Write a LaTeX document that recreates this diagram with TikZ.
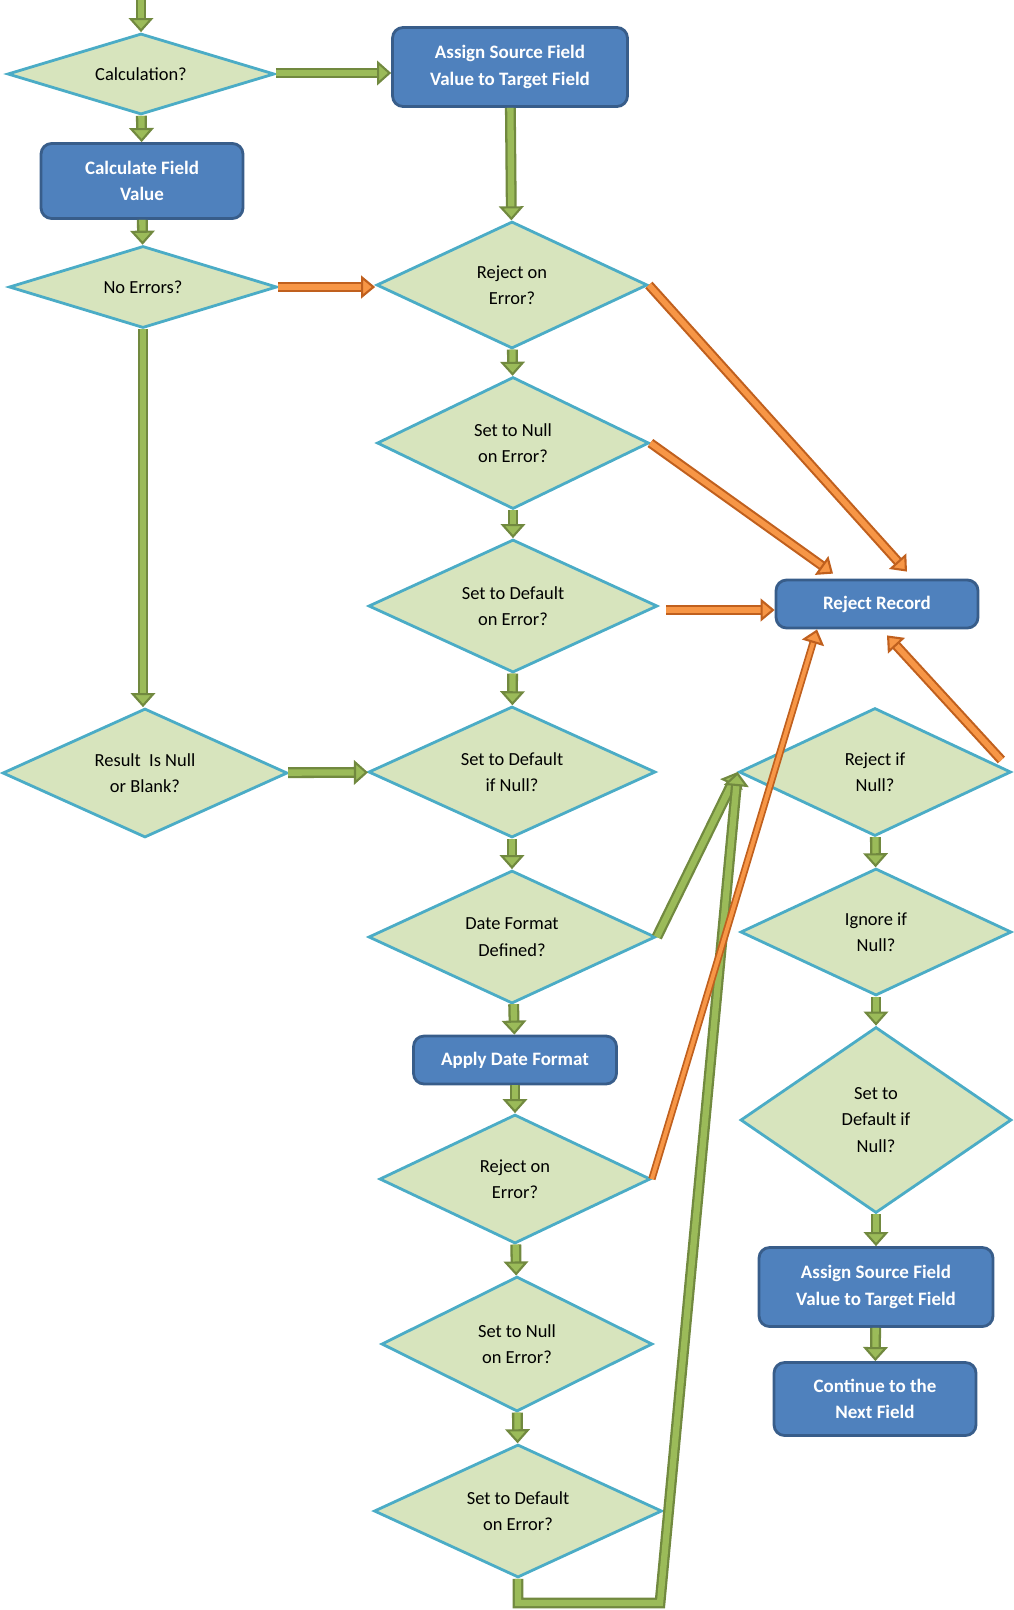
\documentclass[tikz,border=0pt]{standalone}
\usepackage{fontspec}
\setmainfont{Carlito}
\usetikzlibrary{arrows.meta,shapes.geometric}

\definecolor{dfill}{HTML}{D7E4BD}
\definecolor{dborder}{HTML}{4BACC6}
\definecolor{bfill}{HTML}{4F81BD}
\definecolor{bborder}{HTML}{385D8A}
\definecolor{gdark}{HTML}{71893F}
\definecolor{glight}{HTML}{9BBB59}
\definecolor{odark}{HTML}{C0601E}
\definecolor{olight}{HTML}{F79646}

\begin{document}
\begin{tikzpicture}[x=0.02cm, y=-0.02cm,
    font=\fontsize{10.5pt}{15pt}\selectfont,
    decision/.style={diamond, aspect=2.2, draw=dborder, fill=dfill, line width=1.6pt, inner sep=0pt, align=center},
    block/.style={rectangle, draw=bborder, fill=bfill, line width=1.6pt, rounded corners=6pt, text=white, font=\fontsize{10.8pt}{15pt}\selectfont\bfseries, align=center},
    gline/.style={draw=gdark, double=glight, line width=1.3pt, double distance=3.6pt, -{Triangle[width=14pt, length=8pt, fill=glight, line width=1.2pt]}},
    oline/.style={draw=odark, double=olight, line width=1.2pt, double distance=3.2pt, -{Triangle[width=13pt, length=8pt, fill=olight, line width=1.2pt]}}]

    \useasboundingbox (0,0) rectangle (1014,1610);

    % left column
    \coordinate (entry) at (141,0);
    \node [decision, minimum width=5.34cm, minimum height=1.62cm] (calc) at (141,74) {Calculation?};
    \node [block, minimum width=4.04cm, minimum height=1.5cm] (calcv) at (142,181) {Calculate Field\\Value};
    \node [decision, minimum width=5.36cm, minimum height=1.64cm] (noerr) at (143,287) {No Errors?};
    \node [decision, minimum width=5.7cm, minimum height=2.58cm] (rnb) at (145,773) {Result~ Is Null\\or Blank?};

    % middle column
    \node [block, minimum width=4.7cm, minimum height=1.58cm] (assign) at (510,67) {Assign Source Field\\Value to Target Field};
    \node [decision, minimum width=5.42cm, minimum height=2.54cm] (rej) at (512,285) {Reject on\\Error?};
    \node [decision, minimum width=5.44cm, minimum height=2.64cm] (snull) at (513,443) {Set to Null\\on Error?};
    \node [decision, minimum width=5.78cm, minimum height=2.66cm] (sdef) at (513,606) {Set to Default\\on Error?};
    \node [decision, minimum width=5.74cm, minimum height=2.62cm] (sdnull) at (512,772) {Set to Default\\if Null?};
    \node [decision, minimum width=5.74cm, minimum height=2.66cm] (dfmt) at (512,937) {Date Format\\Defined?};
    \node [block, minimum width=4.06cm, minimum height=0.96cm] (apply) at (515,1060) {Apply Date Format};
    \node [decision, minimum width=5.42cm, minimum height=2.58cm] (rejd) at (515,1179) {Reject on\\Error?};
    \node [decision, minimum width=5.42cm, minimum height=2.7cm] (snulld) at (517,1344) {Set to Null\\on Error?};
    \node [decision, minimum width=5.76cm, minimum height=2.66cm] (sdefd) at (518,1511) {Set to Default\\on Error?};
    \coordinate (bend) at (660,1603);

    % right column
    \node [block, minimum width=4.04cm, minimum height=0.96cm] (reject) at (877,604) {Reject Record};
    \node [decision, minimum width=5.44cm, minimum height=2.56cm] (rnull) at (875,772) {Reject if\\Null?};
    \node [decision, minimum width=5.42cm, minimum height=2.54cm] (ign) at (876,932) {Ignore if\\Null?};
    \node [decision, minimum width=5.42cm, minimum height=3.72cm] (sdnullr) at (876,1120) {Set to\\Default if\\Null?};
    \node [block, minimum width=4.68cm, minimum height=1.58cm] (assignr) at (876,1287) {Assign Source Field\\Value to Target Field};
    \node [block, minimum width=4.04cm, minimum height=1.46cm] (cont) at (875,1399) {Continue to the\\Next Field};

    % green flow
    \path [gline] (entry) -- (calc);
    \path [gline] ([yshift=0.02cm]calc.east) -- ([yshift=0.02cm]calc.east -| assign.west);
    \path [gline] (calc) -- (calcv);
    \path [gline] (calcv) -- (noerr);
    \path [gline] (assign) -- (rej);
    \path [gline] (noerr.south) -- (noerr.south |- rnb.north);
    \path [gline] (rej) -- (snull);
    \path [gline] (snull) -- (sdef);
    \path [gline] (sdef) -- (sdnull);
    \path [gline] (rnb) -- (sdnull);
    \path [gline] (sdnull) -- (dfmt);
    \path [gline] (dfmt) -- (apply);
    \path [gline] (apply) -- (rejd);
    \path [gline] (rejd) -- (snulld);
    \path [gline] (snulld) -- (sdefd);
    \path [gline] (dfmt.east) -- (rnull.west);
    \path [gline] (sdefd.south) |- (bend) -- (rnull.west);
    \path [gline] (rnull) -- (ign);
    \path [gline] (ign) -- (sdnullr);
    \path [gline] (sdnullr) -- (assignr);
    \path [gline] (assignr) -- (cont);

    % orange flow
    \path [oline] (noerr.east) -- (noerr.east -| rej.west);
    \path [oline] (rej.east) -- ([xshift=0.6cm, yshift=0.14cm]reject.north);
    \path [oline] (snull.east) -- ([xshift=-0.88cm, yshift=0.1cm]reject.north);
    \path [oline, shorten <=0.14cm] ([yshift=-0.08cm]sdef.east) -- ([yshift=-0.08cm]sdef.east -| reject.west);
    \path [oline, line width=1pt, double distance=2.2pt] (rejd.east) -- ([xshift=-1.2cm]reject.south);
    \path [oline] ([xshift=-0.22cm, yshift=0.24cm]rnull.east) -- ([xshift=0.2cm, yshift=-0.12cm]reject.south);
\end{tikzpicture}
\end{document}
